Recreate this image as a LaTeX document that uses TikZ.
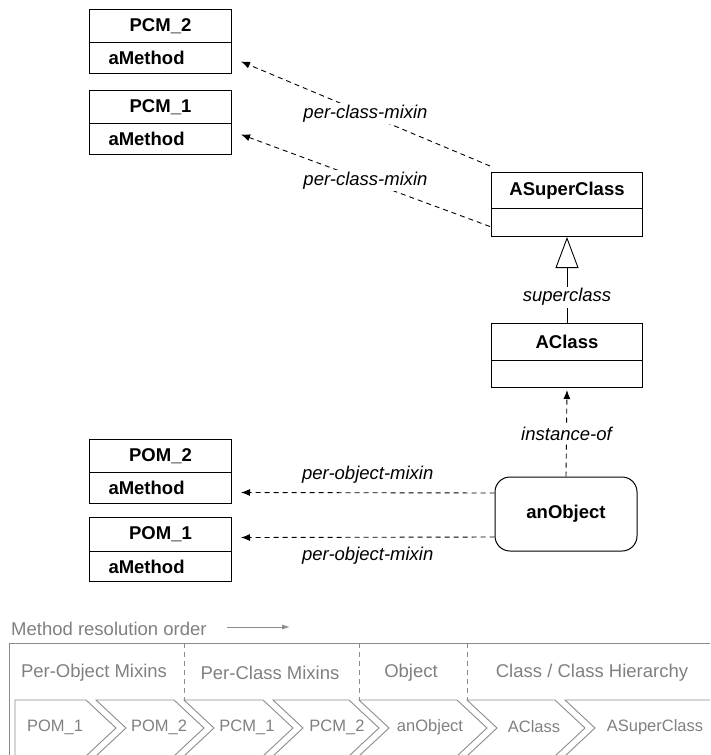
\documentclass[tikz,border=0pt]{standalone}
\usepackage{fontspec}
\setmainfont{Liberation Sans}
\usetikzlibrary{arrows.meta}
\definecolor{mrotext}{RGB}{128,128,128}
\definecolor{mroline}{RGB}{140,140,140}
\begin{document}
\begin{tikzpicture}[x=1pt,y=-1pt,
  every node/.style={font=\fontsize{18.5}{22}\selectfont},
  hdr/.style={draw, line width=1pt, anchor=north west, minimum width=142pt, inner sep=0pt,
    font=\bfseries\fontsize{18.5}{22}\selectfont},
  bodybox/.style={draw, line width=1pt, anchor=north west, text width=104pt, inner xsep=19pt,
    inner ysep=0pt, align=left, font=\bfseries\fontsize{18.5}{22}\selectfont},
  clshdr/.style={draw, line width=1pt, anchor=north west, minimum width=151pt, inner sep=0pt,
    font=\bfseries\fontsize{18.5}{22}\selectfont},
  clsbody/.style={draw, line width=1pt, anchor=north west, minimum width=151pt, inner sep=0pt},
  objbox/.style={draw, line width=1pt, rounded corners=15pt, minimum width=142pt, minimum height=74pt,
    font=\bfseries\fontsize{18.5}{22}\selectfont},
  mixin/.style={line width=0.9pt, dash pattern=on 5pt off 4pt, -{Latex[length=9pt,width=7pt]}},
  inherit/.style={line width=0.9pt, -{Triangle[open, length=31pt, width=23pt, fill=white]}},
  lbl/.style={fill=white, inner sep=2pt, font=\itshape\fontsize{18.5}{22}\selectfont},
  lblplain/.style={inner sep=2pt, font=\itshape\fontsize{18.5}{22}\selectfont},
  chevline/.style={draw=mroline, line width=0.9pt},
  chevtext/.style={text=mrotext, inner sep=0pt, font=\fontsize{16.5}{19}\selectfont},
  grouptext/.style={text=mrotext, inner sep=0pt, font=\fontsize{18.5}{22}\selectfont},
  sepline/.style={draw=mroline, line width=0.9pt, dash pattern=on 5pt off 4pt}
]
\useasboundingbox (0,0) rectangle (710,755);

% per-class mixins
\node[hdr, minimum height=33pt] (pcm2) at (89,9) {PCM\_2};
\node[bodybox, minimum height=31pt] (pcm2b) at (89,42) {aMethod};
\node[hdr, minimum height=33pt] (pcm1) at (89,90) {PCM\_1};
\node[bodybox, minimum height=31pt] (pcm1b) at (89,123) {aMethod};

% classes
\node[clshdr, minimum height=36pt] (asc) at (491,172) {ASuperClass};
\node[clsbody, minimum height=28pt] (ascb) at (491,208) {};
\node[clshdr, minimum height=37pt] (ac) at (491,323) {AClass};
\node[clsbody, minimum height=27pt] (acb) at (491,360) {};

% per-object mixins
\node[hdr, minimum height=33pt] (pom2) at (89,439) {POM\_2};
\node[bodybox, minimum height=31pt] (pom2b) at (89,472) {aMethod};
\node[hdr, minimum height=34pt] (pom1) at (89,517) {POM\_1};
\node[bodybox, minimum height=30pt] (pom1b) at (89,551) {aMethod};

% object
\node[objbox] (obj) at (566,514) {anObject};

% connectors
\draw[mixin] ([shift={(-1,-6)}]asc.north west) -- node[lbl, pos=0.5] {per-class-mixin} ([shift={(9,3.5)}]pcm2b.east);
\draw[mixin] ([shift={(-1,4)}]ascb.west) -- node[lbl, pos=0.5] {per-class-mixin} ([shift={(9,-4.5)}]pcm1b.east);
\draw[inherit] (ac.north) -- node[lbl, pos=0.30] {superclass} (ascb.south);
\draw[mixin, shorten >=2pt] (obj.north) -- node[lbl, pos=0.48] {instance-of} (acb.south);
\draw[mixin] ([shift={(0,-21)}]obj.west) -- node[lblplain, pos=0.5, above=7pt] {per-object-mixin} ([shift={(9,4.5)}]pom2b.east);
\draw[mixin] ([shift={(0,23)}]obj.west) -- node[lblplain, pos=0.5, below=7pt] {per-object-mixin} ([shift={(9,3)}]pom1.east);

% method resolution order panel
\node[grouptext, anchor=west] (mro) at (11,629) {Method resolution order};
\coordinate (mroend) at (290,627);
\draw[draw=mroline, line width=0.9pt, -{Latex[length=8pt,width=5pt]}] ([xshift=20pt]mro.east |- mroend) -- (mroend);

\begin{scope}
\clip (0,0) rectangle (710,755);
\draw[chevline] (9,770) -- (9,643) -- (720,643);
\draw[sepline] (184,643) -- (184,700);
\draw[sepline] (359,643) -- (359,700);
\draw[sepline] (467,643) -- (467,700);
\draw[chevline] (15,700) -- (86,700) -- (116,728) -- (86,756) -- (15,756) -- cycle;
\foreach \a/\b in {96/174, 184/263, 273/349, 359/457, 467/555, 565/760}
  \draw[chevline] (\a,700) -- (\b,700) -- ++(30,28) -- (\b,756) -- (\a,756) -- ++(30,-28) -- cycle;
\end{scope}

\node[grouptext] (gpom) at (94,673) {Per-Object Mixins};
\node[grouptext] (gpcm) at (270,673) {Per-Class Mixins};
\node[grouptext] (gobj) at (411,673) {Object};
\node[grouptext] (gcls) at (592,673) {Class / Class Hierarchy};

\node[chevtext] (cpom1) at (55,727) {POM\_1};
\node[chevtext] (cpom2) at (159,727) {POM\_2};
\node[chevtext] (cpcm1) at (247,727) {PCM\_1};
\node[chevtext] (cpcm2) at (337,727) {PCM\_2};
\node[chevtext] (cobj) at (430,727) {anObject};
\node[chevtext] (cac) at (534,727) {AClass};
\node[chevtext] (casc) at (655,727) {ASuperClass};
\end{tikzpicture}
\end{document}
